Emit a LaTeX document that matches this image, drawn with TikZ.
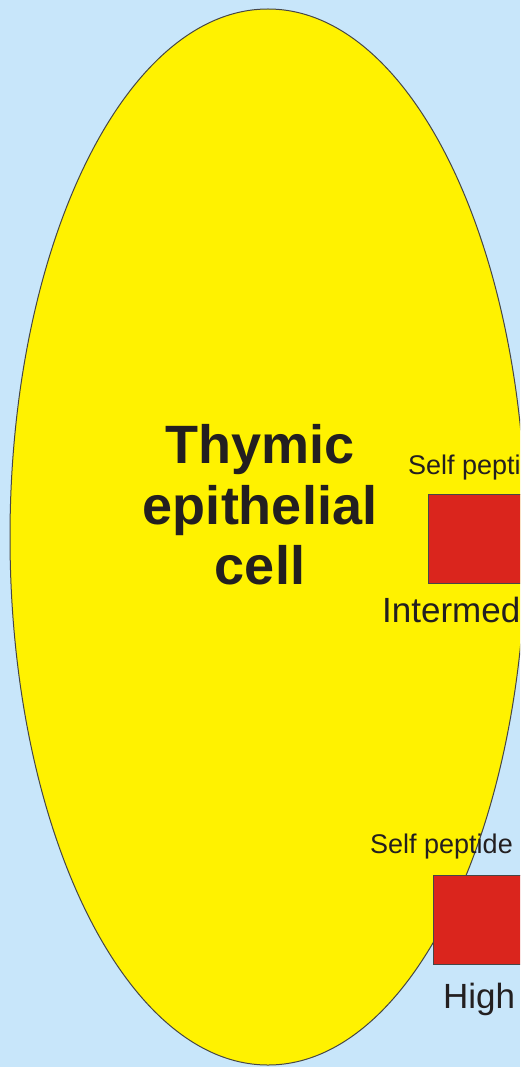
\documentclass[tikz,border=0pt]{standalone}
\usepackage{fontspec}
\setmainfont{Liberation Sans}
\usetikzlibrary{shapes.geometric}
\definecolor{bgblue}{RGB}{200,230,250}
\definecolor{cellyellow}{RGB}{255,242,0}
\definecolor{pepred}{RGB}{218,37,29}
\definecolor{outline}{RGB}{70,70,70}
\definecolor{ink}{RGB}{35,31,32}
\tikzset{
  cellshape/.style={ellipse, draw=outline, line width=1pt, fill=cellyellow, inner sep=0pt},
  peptide/.style={rectangle, draw=outline, line width=0.8pt, fill=pepred, inner sep=0pt, anchor=north west},
  smalllabel/.style={text=ink, inner sep=0pt, anchor=base west, font=\fontsize{27}{32}\selectfont},
  biglabel/.style={text=ink, inner sep=0pt, anchor=base west, font=\fontsize{35}{40}\selectfont},
  titlelabel/.style={text=ink, inner sep=0pt, align=center, font=\bfseries\fontsize{54}{60.5}\selectfont}
}
\begin{document}
\begin{tikzpicture}[x=1pt,y=-1pt]
\useasboundingbox (0,0) rectangle (520,1067);
\clip (0,0) rectangle (520,1067);
\fill[bgblue] (0,0) rectangle (520,1067);
\node[cellshape, minimum width=516pt, minimum height=1056pt] (cell) at (268,537) {};
\node[titlelabel] (title) at (260,505) {Thymic\\epithelial\\cell};
\node[smalllabel] (sp1) at (408,474) {Self peptide};
\node[peptide, minimum width=140pt, minimum height=89pt] (r1) at (428,494) {};
\node[biglabel] (int) at (382,622) {Intermediate};
\node[smalllabel] (sp2) at (370,853) {Self peptide};
\node[peptide, minimum width=140pt, minimum height=89pt] (r2) at (433,875) {};
\node[biglabel] (high) at (443,1008) {High};
\end{tikzpicture}
\end{document}
